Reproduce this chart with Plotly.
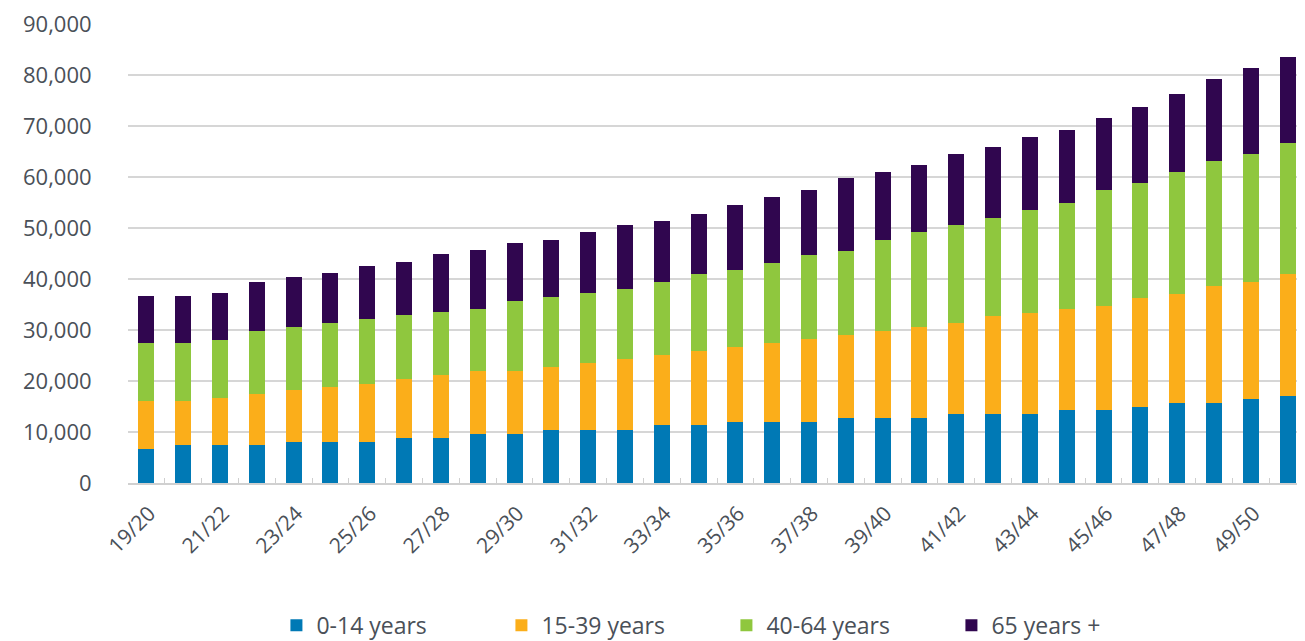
import plotly.graph_objects as go

categories = ["19/20", "20/21", "21/22", "22/23", "23/24", "24/25", "25/26", "26/27",
              "27/28", "28/29", "29/30", "30/31", "31/32", "32/33", "33/34", "34/35",
              "35/36", "36/37", "37/38", "38/39", "39/40", "40/41", "41/42", "42/43",
              "43/44", "44/45", "45/46", "46/47", "47/48", "48/49", "49/50", "50/51"]

age_0_14 = [6600, 7400, 7400, 7400, 8100, 8100, 8100, 8900, 8900, 9600, 9700, 10400,
            10400, 10400, 11300, 11300, 12000, 12000, 12000, 12700, 12800, 12800, 13500, 13500,
            13500, 14300, 14300, 15000, 15700, 15700, 16400, 17100]
age_15_39 = [9400, 8600, 9300, 10000, 10100, 10700, 11400, 11400, 12200, 12300, 12200, 12400,
             13100, 13900, 13800, 14500, 14600, 15400, 16200, 16300, 17000, 17700, 17800, 19300,
             19900, 19800, 20500, 21300, 21400, 22900, 23000, 23800]
age_40_64 = [11500, 11500, 11400, 12400, 12300, 12600, 12600, 12600, 12400, 12300, 13800, 13700,
             13700, 13800, 14400, 15200, 15100, 15800, 16500, 16500, 17900, 18700, 19300, 19200,
             20100, 20800, 22700, 22600, 23900, 24600, 25200, 25700]
age_65_plus = [9100, 9100, 9200, 9700, 9800, 9700, 10500, 10400, 11400, 11400, 11300, 11200,
               12000, 12500, 11900, 11800, 12800, 12800, 12700, 14300, 13300, 13200, 14000, 13900,
               14400, 14400, 14000, 14900, 15200, 16000, 16800, 17000]

series_names = ["0-14 years", "15-39 years", "40-64 years", "65 years +"]
series_values = [age_0_14, age_15_39, age_40_64, age_65_plus]
colors = ["#0079B5", "#FBAE1A", "#8FC73E", "#30064F"]

y_tick_values = [0, 10000, 20000, 30000, 40000, 50000, 60000, 70000, 80000, 90000]
y_tick_labels = ["0", "10,000", "20,000", "30,000", "40,000", "50,000", "60,000",
                 "70,000", "80,000", "90,000"]
x_tick_labels = [c if i % 2 == 0 else "" for i, c in enumerate(categories)]

fig = go.Figure()
for name, vals, col in zip(series_names, series_values, colors):
    fig.add_trace(go.Bar(x=categories, y=vals, name=name, marker_color=col,
                         marker_line_width=0))

text_color = "#4a5058"
fig.update_layout(
    barmode="stack",
    bargap=0.565,
    width=1305, height=641,
    margin=dict(l=120, r=7, t=16, b=166, autoexpand=False),
    paper_bgcolor="white", plot_bgcolor="white",
    font=dict(family="Open Sans", color=text_color, size=18),
    legend=dict(orientation="h", x=0.508, xanchor="center", y=-0.31, yanchor="middle",
                font=dict(size=23, color=text_color), entrywidth=180, traceorder="normal"),
    showlegend=True,
)
fig.update_xaxes(
    type="category", automargin=False,
    tickmode="array", tickvals=categories, ticktext=x_tick_labels,
    tickangle=-45, tickfont=dict(size=21, color=text_color),
    tickson="boundaries", ticks="inside", ticklen=5, tickcolor="#cfcfcf", tickwidth=1,
    ticklabelstandoff=8, ticklabelshift=3,
    showline=True, linecolor="#d0d0d0", linewidth=2,
    showgrid=False, range=[-0.5, 31.5],
)
fig.update_yaxes(
    range=[0, 90000], automargin=False,
    tickmode="array", tickvals=y_tick_values, ticktext=y_tick_labels,
    tickfont=dict(size=22, color=text_color), ticklabeloverflow="allow",
    ticks="outside", ticklen=31, tickcolor="rgba(0,0,0,0)",
    showgrid=True, gridcolor="#d6d6d6", gridwidth=2,
    zeroline=False, showline=False,
)

fig.write_html("out.html")
